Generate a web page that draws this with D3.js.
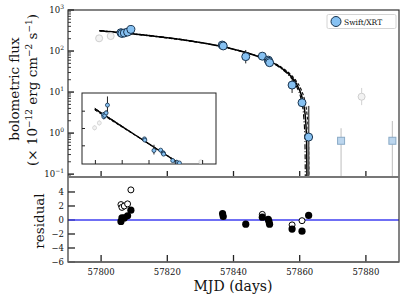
<!DOCTYPE html>
<html>
<head>
<meta charset="utf-8">
<script src="https://cdn.jsdelivr.net/npm/d3@7"></script>
<style>
  body { margin: 0; background: #fff; }
  svg { display: block; font-family: "DejaVu Serif", "Liberation Serif", serif; }
</style>
</head>
<body>
<svg id="chart" width="407" height="299"></svg>
<script>
// ---- data ----
const xrtMJD  = [57806.0, 57806.3, 57807.0, 57808.0, 57809.0, 57836.6, 57836.9, 57843.7, 57848.7, 57850.5, 57850.7, 57850.9, 57857.7, 57860.7, 57862.7];
const xrtFlux = [280, 268, 275, 290, 335, 140, 133, 73, 75, 60, 56, 52, 14.8, 5.5, 0.8];
const xrtErrLo = [15, 15, 15, 15, 50, 10, 10, 23, 6, 5, 5, 5, 5.3, 1.0, 0.79];
const xrtErrHi = [15, 15, 15, 15, 50, 10, 10, 33, 6, 5, 5, 5, 4.7, 1.0, 3.8];

const grayMJD  = [57799.4, 57802.9, 57878.7];
const grayFlux = [204, 232, 7.7];
const grayErrLo = [15, 15, 2.9];
const grayErrHi = [15, 15, 4.9];

const sqMJD  = [57872.5, 57888.0];
const sqFlux = [0.65, 0.65];
const sqErrHi = [0.67, 1.31];

// model curves
const modelMJD   = [57799.5, 57810, 57820, 57830, 57840, 57845, 57850, 57854, 57857, 57859, 57860.5];
const modelSolid = [313.5, 261, 211, 161, 111, 86, 61, 41, 26, 16, 8.5];
const tailSolidMJD = [57861.3, 57861.8, 57862.0, 57862.1, 57862.18, 57862.2];
const tailSolid    = [4.5, 2, 1, 0.5, 0.1, 0.04];
const modelDash  = [307, 256.1, 207.6, 159.1, 110.6, 86.3, 62.1, 42.7, 28.1, 18.4, 11.2];
const tailDashMJD = [57861.5, 57862.2, 57862.5, 57862.7, 57862.78, 57862.8];
const tailDash    = [6.3, 2.9, 1.5, 0.5, 0.1, 0.04];
const modelDashDot = [317, 263.7, 212.7, 161.7, 110.7, 85.2, 59.7, 39.3, 24, 13.8, 6.1];
const tailDashDotMJD = [57861.2, 57861.5, 57861.6, 57861.68, 57861.7];
const tailDashDot    = [2.55, 1.0, 0.5, 0.1, 0.04];

const resFilledMJD = [57806.0, 57806.3, 57807.0, 57808.0, 57809.0, 57836.7, 57836.9, 57843.7, 57848.7, 57850.5, 57850.7, 57850.9, 57857.7, 57860.7, 57862.7];
const resFilled    = [-0.2, 0.3, 0.3, 0.6, 1.4, 0.9, 0.5, -0.6, 0.4, 0.1, -0.2, -0.6, -1.3, -1.6, 0.65];
const resOpenMJD = [57806.0, 57806.3, 57807.0, 57808.0, 57809.0, 57848.7, 57857.7, 57860.7];
const resOpen    = [2.2, 1.8, 2.0, 2.3, 4.3, 0.8, -0.7, -0.1];

const xTicks = [57800, 57820, 57840, 57860, 57880];
const mainYTicks = [-1, 0, 1, 2, 3];
const resYTicks = [-6, -4, -2, 0, 2, 4];
const insetYTicks = [100, 200, 300];

const blueFill = "#86c1f2", blueEdge = "#17324d";

// ---- layout ----
const L = 68, R = 399, T = 10, MB = 177, RB = 262;
const inset = {l: 82, r: 216, t: 93, b: 164};

const svg = d3.select("#chart");

const x = d3.scaleLinear().domain([57790, 57890]).range([L, R]);
const y = d3.scaleLog().domain([Math.pow(10, -1.07), 1000]).range([MB, T]);
const yr = d3.scaleLinear().domain([-6, 6.14]).range([RB, MB]);
const xi = d3.scaleLinear().domain([57790, 57890]).range([inset.l, inset.r]);
const yi = d3.scaleLinear().domain([-5, 405]).range([inset.b, inset.t]);

const defs = svg.append("defs");
defs.append("clipPath").attr("id", "clipMain").append("rect")
    .attr("x", L).attr("y", T).attr("width", R - L).attr("height", MB - T);
defs.append("clipPath").attr("id", "clipInset").append("rect")
    .attr("x", inset.l).attr("y", inset.t).attr("width", inset.r - inset.l).attr("height", inset.b - inset.t);

const zip = (a, b) => a.map((v, i) => [v, b[i]]);
const solidPts = zip(modelMJD.concat(tailSolidMJD), modelSolid.concat(tailSolid));
const dashPts = zip(modelMJD.concat(tailDashMJD), modelDash.concat(tailDash));
const dashDotPts = zip(modelMJD.concat(tailDashDotMJD), modelDashDot.concat(tailDashDot));

// ---- main panel ----
const gm = svg.append("g").attr("clip-path", "url(#clipMain)");

const lineMain = d3.line().x(d => x(d[0])).y(d => y(d[1])).curve(d3.curveMonotoneX);
[[dashDotPts, "5,2,1,2", 1.1], [dashPts, "3,2", 1.1], [solidPts, null, 1.5]].forEach(([pts, dash, w]) => {
    gm.append("path").datum(pts).attr("fill", "none").attr("stroke", "#000")
      .attr("stroke-width", w).attr("stroke-dasharray", dash).attr("d", lineMain);
});

// gray excluded points
grayMJD.forEach((m, i) => {
    gm.append("line").attr("x1", x(m)).attr("x2", x(m))
      .attr("y1", y(grayFlux[i] - grayErrLo[i])).attr("y2", y(grayFlux[i] + grayErrHi[i]))
      .attr("stroke", "#d8d8d8").attr("stroke-width", 1.2);
    gm.append("circle").attr("cx", x(m)).attr("cy", y(grayFlux[i])).attr("r", 3.5)
      .attr("fill", "#f2f2f2").attr("stroke", "#cfcfcf").attr("stroke-width", 1);
});

// upper-limit squares
sqMJD.forEach((m, i) => {
    gm.append("line").attr("x1", x(m)).attr("x2", x(m))
      .attr("y1", MB).attr("y2", y(sqFlux[i] + sqErrHi[i]))
      .attr("stroke", "#c8c8c8").attr("stroke-width", 1.2);
    gm.append("rect").attr("x", x(m) - 3.5).attr("y", y(sqFlux[i]) - 3.5)
      .attr("width", 7).attr("height", 7)
      .attr("fill", "#bcd6ee").attr("stroke", "#8aaac6").attr("stroke-width", 1);
});

// XRT points
xrtMJD.forEach((m, i) => {
    const lo = xrtFlux[i] - xrtErrLo[i];
    const last = i === xrtMJD.length - 1;
    gm.append("line").attr("x1", x(m)).attr("x2", x(m))
      .attr("y1", lo > 0.01 ? y(lo) : MB).attr("y2", y(xrtFlux[i] + xrtErrHi[i]))
      .attr("stroke", last ? "#555" : "#222").attr("stroke-width", last ? 1.6 : 1);
});
xrtMJD.forEach((m, i) => {
    gm.append("circle").attr("cx", x(m)).attr("cy", y(xrtFlux[i])).attr("r", 4)
      .attr("fill", blueFill).attr("stroke", blueEdge).attr("stroke-width", 1);
});

// main axes ticks (inward)
const ticksG = svg.append("g").attr("stroke", "#222");
mainYTicks.forEach(p => {
    const yy = y(Math.pow(10, p));
    ticksG.append("line").attr("x1", L).attr("x2", L + 6).attr("y1", yy).attr("y2", yy).attr("stroke-width", 1.4);
    if (p < 3) {
        for (let k = 2; k <= 9; k++) {
            const ym = y(k * Math.pow(10, p));
            ticksG.append("line").attr("x1", L).attr("x2", L + 3).attr("y1", ym).attr("y2", ym).attr("stroke-width", 0.9);
        }
    }
});
const minorLow = y(0.09);
ticksG.append("line").attr("x1", L).attr("x2", L + 3).attr("y1", minorLow).attr("y2", minorLow).attr("stroke-width", 0.9);
xTicks.forEach(t => {
    ticksG.append("line").attr("x1", x(t)).attr("x2", x(t)).attr("y1", MB).attr("y2", MB - 6).attr("stroke-width", 1.3);
    ticksG.append("line").attr("x1", x(t)).attr("x2", x(t)).attr("y1", RB).attr("y2", RB - 7).attr("stroke-width", 1.3);
});
resYTicks.forEach(v => {
    ticksG.append("line").attr("x1", L).attr("x2", L + 7).attr("y1", yr(v)).attr("y2", yr(v)).attr("stroke-width", 1.3);
});

// main y tick labels
mainYTicks.forEach(p => {
    const t = svg.append("text").attr("x", L - 4).attr("y", y(Math.pow(10, p)) + 3)
      .attr("text-anchor", "end").attr("font-size", 8.5).attr("fill", "#111");
    t.append("tspan").text("10");
    t.append("tspan").attr("dy", -4).attr("font-size", 6).text(p < 0 ? "\u2212" + (-p) : p);
});

// ---- inset ----
svg.append("rect").attr("x", inset.l).attr("y", inset.t)
   .attr("width", inset.r - inset.l).attr("height", inset.b - inset.t)
   .attr("fill", "#fff").attr("stroke", "#222").attr("stroke-width", 1);
const gi = svg.append("g").attr("clip-path", "url(#clipInset)");
const lineInset = d3.line().x(d => xi(d[0])).y(d => yi(d[1]));
[[dashDotPts, "5,2,1,2", 1], [dashPts, "3,2", 1], [solidPts, null, 1.4]].forEach(([pts, dash, w]) => {
    gi.append("path").datum(pts).attr("fill", "none").attr("stroke", "#000")
      .attr("stroke-width", w).attr("stroke-dasharray", dash).attr("d", lineInset);
});
grayMJD.forEach((m, i) => {
    gi.append("line").attr("x1", xi(m)).attr("x2", xi(m))
      .attr("y1", yi(grayFlux[i] - grayErrLo[i])).attr("y2", yi(grayFlux[i] + grayErrHi[i]))
      .attr("stroke", "#dcdcdc").attr("stroke-width", 1);
    gi.append("circle").attr("cx", xi(m)).attr("cy", yi(grayFlux[i])).attr("r", 2)
      .attr("fill", "#f2f2f2").attr("stroke", "#d0d0d0").attr("stroke-width", 0.8);
});
xrtMJD.forEach((m, i) => {
    gi.append("line").attr("x1", xi(m)).attr("x2", xi(m))
      .attr("y1", yi(xrtFlux[i] - xrtErrLo[i])).attr("y2", yi(xrtFlux[i] + xrtErrHi[i]))
      .attr("stroke", "#222").attr("stroke-width", 1);
});
xrtMJD.forEach((m, i) => {
    gi.append("circle").attr("cx", xi(m)).attr("cy", yi(xrtFlux[i])).attr("r", 2)
      .attr("fill", blueFill).attr("stroke", blueEdge).attr("stroke-width", 0.8);
});
insetYTicks.forEach(v => {
    svg.append("line").attr("x1", inset.l).attr("x2", inset.l + 3).attr("y1", yi(v)).attr("y2", yi(v))
      .attr("stroke", "#222").attr("stroke-width", 1);
});
xTicks.forEach(t => {
    svg.append("line").attr("x1", xi(t)).attr("x2", xi(t)).attr("y1", inset.b).attr("y2", inset.b - 4)
      .attr("stroke", "#222").attr("stroke-width", 1);
});

// ---- residual panel ----
svg.append("line").attr("x1", L).attr("x2", R).attr("y1", yr(0)).attr("y2", yr(0))
   .attr("stroke", "#3f3ff0").attr("stroke-width", 1.6);
const gr = svg.append("g");
resOpenMJD.forEach((m, i) => {
    gr.append("circle").attr("cx", x(m)).attr("cy", yr(resOpen[i])).attr("r", 3)
      .attr("fill", "#fff").attr("stroke", "#000").attr("stroke-width", 1);
});
resFilledMJD.forEach((m, i) => {
    gr.append("circle").attr("cx", x(m)).attr("cy", yr(resFilled[i])).attr("r", 3.6).attr("fill", "#000");
});
resYTicks.forEach(v => {
    svg.append("text").attr("x", L - 4).attr("y", yr(v) + 3).attr("text-anchor", "end")
      .attr("font-size", 8.5).attr("fill", "#111").text(v < 0 ? "\u2212" + (-v) : v);
});
xTicks.forEach(t => {
    svg.append("text").attr("x", x(t)).attr("y", 275).attr("text-anchor", "middle")
      .attr("font-size", 8.5).attr("fill", "#111").text(t);
});

// ---- frames ----
svg.append("rect").attr("x", L).attr("y", T).attr("width", R - L).attr("height", RB - T)
   .attr("fill", "none").attr("stroke", "#333").attr("stroke-width", 1.2);
svg.append("line").attr("x1", L).attr("x2", R).attr("y1", MB).attr("y2", MB)
   .attr("stroke", "#777").attr("stroke-width", 2);
svg.append("line").attr("x1", L).attr("x2", R).attr("y1", RB).attr("y2", RB)
   .attr("stroke", "#666").attr("stroke-width", 1.6);

// ---- legend ----
const lg = svg.append("g");
lg.append("rect").attr("x", 327).attr("y", 14.5).attr("width", 69).attr("height", 14)
  .attr("rx", 1.5).attr("fill", "#fff").attr("stroke", "#d4d4d4").attr("stroke-width", 1);
lg.append("circle").attr("cx", 336).attr("cy", 21.5).attr("r", 5)
  .attr("fill", blueFill).attr("stroke", blueEdge).attr("stroke-width", 1);
lg.append("text").attr("x", 344).attr("y", 24.5).attr("font-size", 7.5).attr("fill", "#111").text("Swift/XRT");

// ---- axis labels ----
svg.append("text").attr("transform", "translate(19,89) rotate(-90)").attr("text-anchor", "middle")
   .attr("font-size", 13.5).attr("fill", "#111").text("bolometric flux");
const yl2 = svg.append("text").attr("transform", "translate(37,90) rotate(-90)").attr("text-anchor", "middle")
   .attr("font-size", 13.5).attr("fill", "#111");
yl2.append("tspan").text("(\u00d7 10");
yl2.append("tspan").attr("baseline-shift", "super").attr("font-size", 9).text("\u221212");
yl2.append("tspan").text(" erg cm");
yl2.append("tspan").attr("baseline-shift", "super").attr("font-size", 9).text("\u22122");
yl2.append("tspan").text(" s");
yl2.append("tspan").attr("baseline-shift", "super").attr("font-size", 9).text("\u22121");
yl2.append("tspan").text(")");
svg.append("text").attr("transform", "translate(44,221) rotate(-90)").attr("text-anchor", "middle")
   .attr("font-size", 13.5).attr("fill", "#111").text("residual");
svg.append("text").attr("x", 233).attr("y", 291).attr("text-anchor", "middle")
   .attr("font-size", 14).attr("fill", "#111").text("MJD (days)");
</script>
</body>
</html>
